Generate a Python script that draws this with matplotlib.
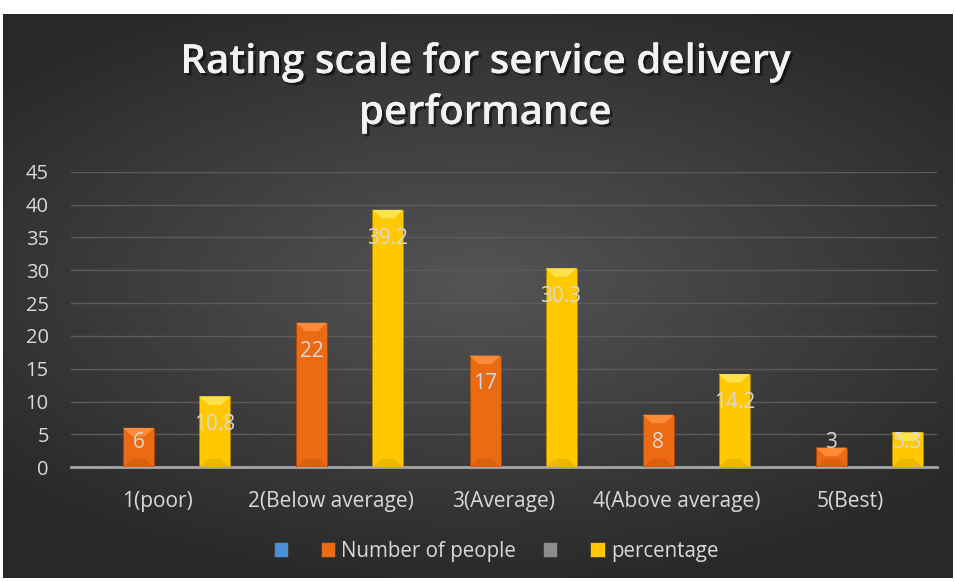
import numpy as np
import matplotlib
matplotlib.use('Agg')
import matplotlib.pyplot as plt
from matplotlib.patches import Patch, Polygon
import matplotlib.patheffects as pe

plt.rcParams['font.family'] = ['Open Sans', 'DejaVu Sans']

# data
categories = ['1(poor)', '2(Below average)', '3(Average)', '4(Above average)', '5(Best)']
people = [6, 22, 17, 8, 3]
percentage = [10.8, 39.2, 30.3, 14.2, 5.3]
series_names = ['', 'Number of people', '', 'percentage']
yticks = [0, 5, 10, 15, 20, 25, 30, 35, 40, 45]

blue = '#4a8fd6'
orange = '#ec6a12'
grey = '#8c8c8c'
yellow = '#ffc800'
txt = '#d9d9d9'

fig = plt.figure(figsize=(9.55, 5.81), dpi=100, facecolor='white')

# dark radial background
bg = fig.add_axes([3/955, 3/581, 949/955, 564/581])
gx, gy = np.meshgrid(np.linspace(-1, 1, 400), np.linspace(-1, 1, 300))
r = np.sqrt((gx * 0.9) ** 2 + ((gy + 0.05) * 1.1) ** 2)
shade = 0.33 - 0.17 * np.clip(r, 0, 1.2) / 1.2
bg.imshow(np.dstack([shade] * 3), aspect='auto', extent=[0, 1, 0, 1])
bg.set_axis_off()

ax = fig.add_axes([71/955, 113.7/581, 866/955, 295.6/581])
ax.set_facecolor('none')

x = np.arange(len(categories))
slot = 38 / 173.2
bw = 31 / 173.2


def bevel(bars, color_hi, color_lo):
    for b in bars:
        x0, w, h = b.get_x(), b.get_width(), b.get_height()
        d = min(1.3, h / 2)
        inset = w * 0.3
        ax.add_patch(Polygon([[x0, h], [x0 + w, h], [x0 + w - inset, h - d], [x0 + inset, h - d]],
                             closed=True, color=color_hi, zorder=4, lw=0))
        ax.add_patch(Polygon([[x0, 0], [x0 + w, 0], [x0 + w - inset, d], [x0 + inset, d]],
                             closed=True, color=color_lo, zorder=4, lw=0))


b1 = ax.bar(x - 0.5 * slot, people, bw, color=orange, zorder=3, edgecolor='#a84808', linewidth=0.6)
b2 = ax.bar(x + 1.5 * slot, percentage, bw, color=yellow, zorder=3, edgecolor='#b08800', linewidth=0.6)
bevel(b1, '#ff8a3a', '#d8600e')
bevel(b2, '#ffe24a', '#ebb800')

# data labels
for xs, vals in [(x - 0.5 * slot, people), (x + 1.5 * slot, percentage)]:
    for xi, v in zip(xs, vals):
        ax.text(xi, max(v - 4.3, 3.8), f'{v:g}', ha='center', va='center',
                color=txt, fontsize=15, zorder=5)

ax.set_ylim(0, 45)
ax.set_xlim(-0.5, 4.5)
ax.set_yticks(yticks)
ax.set_xticks(x)
ax.set_xticklabels(categories)
ax.tick_params(axis='both', length=0, colors=txt)
ax.tick_params(axis='y', pad=16, labelsize=14.5)
ax.tick_params(axis='x', pad=17, labelsize=15)
ax.grid(axis='y', color='#5c5c5c', linewidth=1)
ax.set_axisbelow(True)
for s in ['top', 'right', 'left']:
    ax.spines[s].set_visible(False)
ax.spines['bottom'].set_color('#a6a6a6')
ax.spines['bottom'].set_linewidth(2)

# title
shadow = [pe.withSimplePatchShadow(offset=(2, -2), shadow_rgbFace='black', alpha=0.5), pe.Normal()]
fig.text(485/955, 1 - 63/581, 'Rating scale for service delivery', ha='center', va='center',
         color='#f2f2f2', fontsize=29, fontweight='semibold', path_effects=shadow)
fig.text(485/955, 1 - 114/581, 'performance', ha='center', va='center',
         color='#f2f2f2', fontsize=29, fontweight='semibold', path_effects=shadow)

# legend
handles = [Patch(facecolor=c, edgecolor='#333333', linewidth=0.5) for c in [blue, orange, grey, yellow]]
leg = fig.legend(handles, series_names, loc='center', bbox_to_anchor=(496/955, 1 - 551/581),
                 ncol=4, frameon=False, fontsize=14.8, labelcolor=txt,
                 handlelength=0.7, handleheight=0.7, handletextpad=0.3, columnspacing=1.3)

fig.savefig('out.png', dpi=100, facecolor='white')
